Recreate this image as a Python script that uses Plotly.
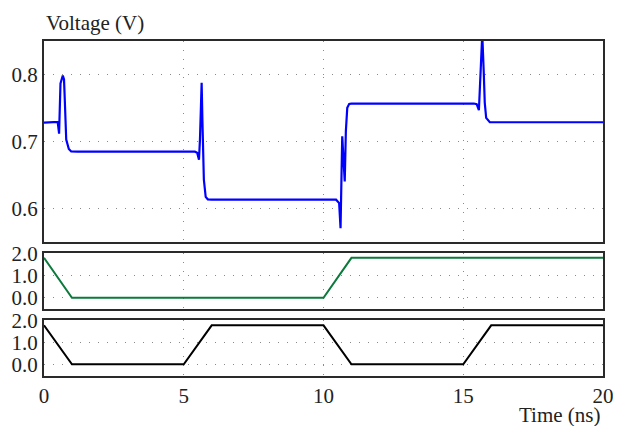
import plotly.graph_objects as go

# ---- data ----
t_out = [0, 0.49, 0.54, 0.566, 0.59, 0.673, 0.716, 0.734, 0.795, 0.888, 0.974, 1.2,
         5.4, 5.48, 5.545, 5.58, 5.64, 5.667, 5.69, 5.72, 5.785, 5.86, 6.0,
         10.45, 10.56, 10.61, 10.67, 10.71, 10.76, 10.8, 10.85, 10.92, 11.0,
         15.38, 15.48, 15.56, 15.62, 15.68, 15.73, 15.77, 15.82, 15.95, 20]
v_out = [0.728, 0.729, 0.7115, 0.773, 0.7865, 0.7985, 0.7925, 0.773, 0.7025, 0.6886, 0.6848, 0.6845,
         0.6845, 0.683, 0.6725, 0.7025, 0.7875, 0.7325, 0.6875, 0.6425, 0.617, 0.6133, 0.6128,
         0.6128, 0.6076, 0.570, 0.7075, 0.68, 0.64, 0.715, 0.75, 0.756, 0.7565,
         0.7565, 0.7555, 0.7465, 0.8075, 0.86, 0.8075, 0.7575, 0.735, 0.7285, 0.7285]

t_a = [0, 1, 10, 11, 20]
v_a = [1.8, 0, 0, 1.8, 1.8]

t_b = [0, 1, 5, 6, 10, 11, 15, 16, 20]
v_b = [1.8, 0, 0, 1.8, 1.8, 0, 0, 1.8, 1.8]

x_ticks = [0, 5, 10, 15, 20]
y1_ticks = [0.6, 0.7, 0.8]
y_dig_ticks = [0.0, 1.0, 2.0]

FONT = "Liberation Serif, Times New Roman, serif"
FS = 21
GRID = "#8a8a8a"
BORDER = "#2a2a2a"

fig = go.Figure()
fig.add_trace(go.Scatter(x=t_out, y=v_out, mode="lines", line=dict(color="#0000ff", width=2.2),
                         xaxis="x", yaxis="y", showlegend=False))
fig.add_trace(go.Scatter(x=t_a, y=v_a, mode="lines", line=dict(color="#0b7a3c", width=2),
                         xaxis="x2", yaxis="y2", showlegend=False))
fig.add_trace(go.Scatter(x=t_b, y=v_b, mode="lines", line=dict(color="#000000", width=2),
                         xaxis="x3", yaxis="y3", showlegend=False))

common_x = dict(range=[0, 20], tickvals=x_ticks, showgrid=True, gridcolor=GRID,
                griddash="1px,8px", gridwidth=1, showline=True, mirror=True,
                linecolor=BORDER, linewidth=2, zeroline=False, ticks="", automargin=False)
common_y = dict(showgrid=True, gridcolor=GRID, griddash="1px,8px", gridwidth=1,
                showline=True, mirror=True, linecolor=BORDER, linewidth=2,
                zeroline=False, ticks="", tickformat=".1f", automargin=False,
                tickfont=dict(family=FONT, size=FS, color="#222"))

fig.update_layout(
    width=617, height=426,
    margin=dict(l=44, r=14, t=41, b=50, autoexpand=False),
    paper_bgcolor="white", plot_bgcolor="white",
    font=dict(family=FONT, size=FS, color="#222"),
    xaxis=dict(common_x, domain=[0, 1], anchor="y", showticklabels=False),
    xaxis2=dict(common_x, domain=[0, 1], anchor="y2", matches="x", showticklabels=False),
    xaxis3=dict(common_x, domain=[0, 1], anchor="y3", matches="x", showticklabels=True,
                tickfont=dict(family=FONT, size=FS, color="#222")),
    yaxis=dict(common_y, domain=[0.401, 1.0], range=[0.55, 0.85], tickvals=y1_ticks),
    yaxis2=dict(common_y, domain=[0.199, 0.366], range=[-0.52, 2.0], tickvals=y_dig_ticks),
    yaxis3=dict(common_y, domain=[0.0, 0.166], range=[-0.54, 2.03], tickvals=y_dig_ticks),
    annotations=[
        dict(text="Voltage (V)", xref="paper", yref="paper", x=0, y=1.054,
             xanchor="left", yanchor="middle", showarrow=False,
             font=dict(family=FONT, size=FS, color="#222")),
        dict(text="Time (ns)", xref="paper", yref="paper", x=1, y=-0.116,
             xanchor="right", yanchor="middle", showarrow=False,
             font=dict(family=FONT, size=FS, color="#222")),
    ],
)

fig.write_html("out.html", config={"displayModeBar": False},
               post_script="document.body.style.margin='0';document.body.style.overflow='hidden';")
